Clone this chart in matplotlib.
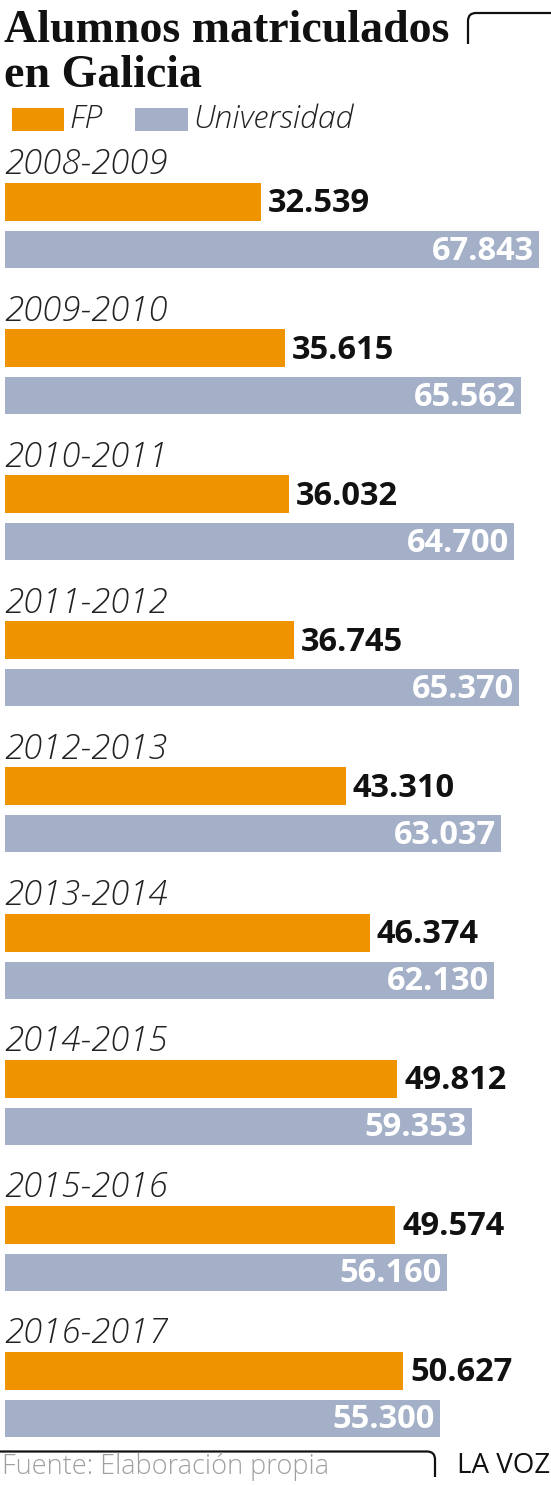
import matplotlib
matplotlib.use("Agg")
import matplotlib.pyplot as plt
from matplotlib.path import Path
from matplotlib.patches import PathPatch

years = ["2008-2009", "2009-2010", "2010-2011", "2011-2012", "2012-2013",
         "2013-2014", "2014-2015", "2015-2016", "2016-2017"]
fp = [32539, 35615, 36032, 36745, 43310, 46374, 49812, 49574, 50627]
univ = [67843, 65562, 64700, 65370, 63037, 62130, 59353, 56160, 55300]
fp_labels = ["32.539", "35.615", "36.032", "36.745", "43.310", "46.374", "49.812", "49.574", "50.627"]
univ_labels = ["67.843", "65.562", "64.700", "65.370", "63.037", "62.130", "59.353", "56.160", "55.300"]

ORANGE = "#F09300"
GREY = "#A3B0C7"

W, H = 551, 1485
fig = plt.figure(figsize=(W / 100, H / 100), dpi=100)

# data axes (x in value units, y in pixel rows)
scale = 0.00787  # px per unit
ax = fig.add_axes([0, 0, 1, 1])
ax.set_xlim(-5 / scale, (W - 5) / scale)
ax.set_ylim(H, 0)
ax.axis("off")

pitch = 146.1
for i in range(len(years)):
    y0 = i * pitch
    ax.text(-1 / scale, 165 + y0, years[i], fontsize=25, family="Open Sans", style="italic",
            fontweight="light", color="#222222", va="center", ha="left")
    ax.barh(202 + y0, fp[i], height=38, left=0, color=ORANGE)
    ax.barh(249.5 + y0, univ[i], height=37, left=0, color=GREY)
    ax.text(fp[i] + 7 / scale, 204 + y0, fp_labels[i], fontsize=23.5, family="Open Sans",
            fontweight="bold", color="#111111", va="center", ha="left")
    ax.text(univ[i] - 5 / scale, 251 + y0, univ_labels[i], fontsize=23.5, family="Open Sans",
            fontweight="bold", color="white", va="center", ha="right")

# overlay axes in pixel coords for decorations
ov = fig.add_axes([0, 0, 1, 1], facecolor="none")
ov.set_xlim(0, W)
ov.set_ylim(H, 0)
ov.axis("off")

ov.text(4, 42, "Alumnos matriculados", fontsize=33, family="Liberation Serif",
        fontweight="bold", color="#111111", va="baseline", ha="left")
ov.text(4, 87, "en Galicia", fontsize=33, family="Liberation Serif",
        fontweight="bold", color="#111111", va="baseline", ha="left")

# top-right corner ornament
r = 8
verts = [(468, 44), (468, 13 + r), (468, 13), (468 + r, 13), (551, 13)]
codes = [Path.MOVETO, Path.LINETO, Path.CURVE3, Path.CURVE3, Path.LINETO]
ov.add_patch(PathPatch(Path(verts, codes), fill=False, lw=1.6, edgecolor="#111111"))

# legend
ov.add_patch(plt.Rectangle((12, 108), 52, 23, color=ORANGE, lw=0))
ov.text(69, 119, "FP", fontsize=23, family="Open Sans", style="italic",
        fontweight="light", color="#222222", va="center", ha="left")
ov.add_patch(plt.Rectangle((135, 108), 53, 23, color=GREY, lw=0))
ov.text(193, 119, "Universidad", fontsize=23, family="Open Sans", style="italic",
        fontweight="light", color="#222222", va="center", ha="left")

# footer line
verts = [(0, 1451.5), (427, 1451.5), (435, 1451.5), (435, 1459.5), (435, 1477)]
codes = [Path.MOVETO, Path.LINETO, Path.CURVE3, Path.CURVE3, Path.LINETO]
ov.add_patch(PathPatch(Path(verts, codes), fill=False, lw=1.6, edgecolor="#111111"))
ov.text(2, 1467, "Fuente: Elaboración propia", fontsize=19.5, family="Open Sans",
        fontweight="light", color="#A0A0A0", va="center", ha="left")
ov.text(550, 1466, "LA VOZ", fontsize=20, family="Open Sans",
        color="#111111", va="center", ha="right")

fig.savefig("out.png", dpi=100)
